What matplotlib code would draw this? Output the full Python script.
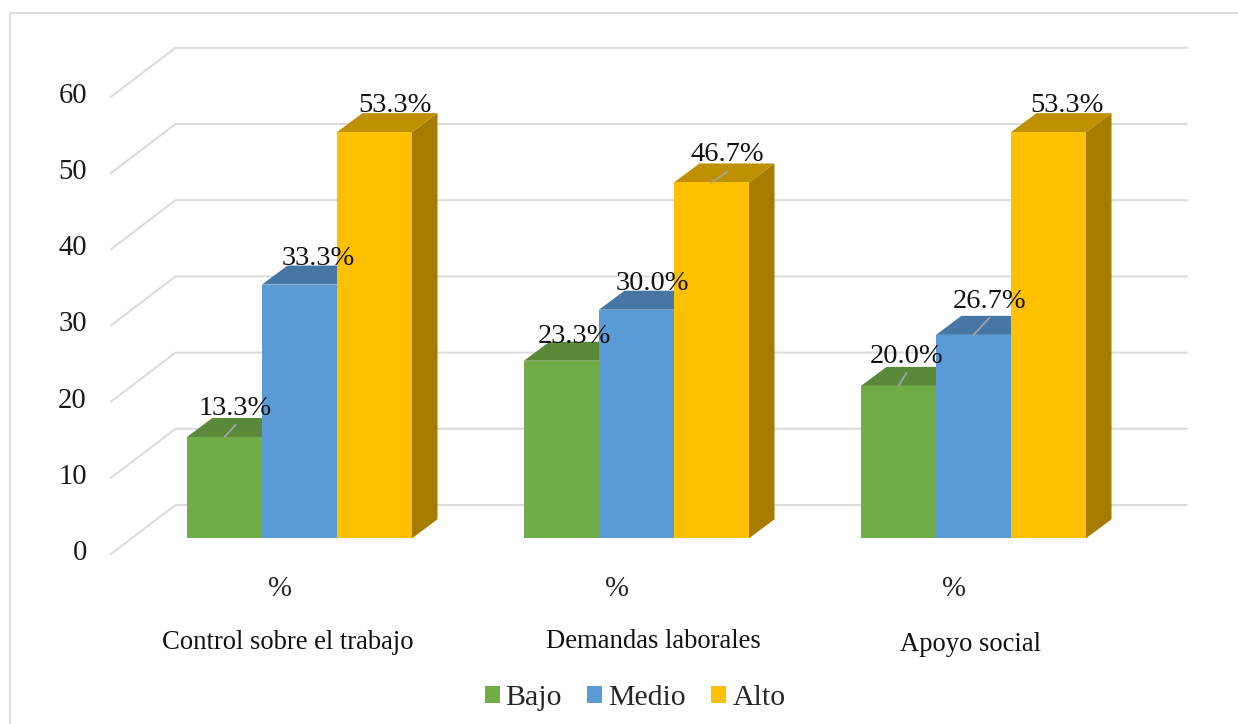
import matplotlib
matplotlib.use("Agg")
import matplotlib.pyplot as plt
from matplotlib.patches import Polygon, Rectangle
from matplotlib.lines import Line2D

plt.rcParams['font.family'] = ['Liberation Serif']

categories = ['Control sobre el trabajo', 'Demandas laborales', 'Apoyo social']
series_names = ['Bajo', 'Medio', 'Alto']
bajo = [13.3, 23.3, 20.0]
medio = [33.3, 30.0, 26.7]
alto = [53.3, 46.7, 53.3]
series_values = [bajo, medio, alto]
y_ticks = [0, 10, 20, 30, 40, 50, 60]

front = ['#70AD47', '#5B9BD5', '#FFC000']
top = ['#5A8A39', '#4676A3', '#BF9000']
side = ['#4F7A32', '#3F6A94', '#A67C00']
grid = '#DCDCDC'
# per-label placement in pixels (series by category), as moved by hand in the original
label_ox = [[11, 13, 8], [19, 16, 16], [21, 16, 18]]
label_oy = [[22, 18, 23], [20, 20, 27], [20, 21, 20]]
leaders = [[True, False, True], [False, False, True], [False, True, False]]

W, H = 1238, 724
fig = plt.figure(figsize=(W / 100, H / 100), dpi=100)
PX_PER_CAT = 337.0
PX_PER_UNIT = 7.62
Y0 = 538.3
XL = 131.0
ax_h = 60 * PX_PER_UNIT
ax = fig.add_axes([XL / W, 1 - Y0 / H, 3 * PX_PER_CAT / W, ax_h / H])
ax.set_xlim(-0.5, 2.5)
ax.set_ylim(0, 60)
ax.axis('off')

def dx(p):
    return p / PX_PER_CAT
def dy(p):
    return p / PX_PER_UNIT

# walls: back gridlines and oblique left segments
wall_left = -0.5 + dx(111 - XL)
depth_x, depth_y = dx(64.5), dy(49)
wall_base = dy(Y0 - 554)
wall_right = wall_left + depth_x + 3
for t in y_ticks:
    yy = t + wall_base
    ax.plot([wall_left, wall_left + depth_x, wall_right], [yy, yy + depth_y, yy + depth_y],
            color=grid, lw=1.5, clip_on=False, zorder=1, solid_joinstyle='miter')
    ax.text(wall_left - dx(24), yy + dy(1), str(t), ha='right', va='center', fontsize=20.6,
            color='#1a1a1a', clip_on=False)

bar_w = 75.0 / PX_PER_CAT
bdx, bdy = dx(25.5), dy(19)
for s, vals in enumerate(series_values):
    offs = (s - 1) * bar_w
    for c, v in enumerate(vals):
        l = c + offs - bar_w / 2
        r = l + bar_w
        zb = 3 + c * 10 + s
        ax.add_patch(Polygon([(r, 0), (r + bdx, bdy), (r + bdx, v + bdy), (r, v)],
                             closed=True, fc=side[s], ec='none', zorder=zb, clip_on=False))
        ax.add_patch(Polygon([(l, v), (l + bdx, v + bdy), (r + bdx, v + bdy), (r, v)],
                             closed=True, fc=top[s], ec='none', zorder=zb, clip_on=False))
        ax.bar(c + offs, v, width=bar_w, color=front[s], zorder=zb + 0.1, clip_on=False)
        if leaders[s][c]:
            ax.plot([c + offs, c + offs + dx(label_ox[s][c])], [v, v + dy(label_oy[s][c] - 10)],
                    color='#A6A6A6', lw=1.2, zorder=zb + 0.2, clip_on=False)

# data labels on top
for s, vals in enumerate(series_values):
    offs = (s - 1) * bar_w
    for c, v in enumerate(vals):
        ax.text(c + offs + dx(label_ox[s][c]), v + dy(label_oy[s][c]), f'{v:.1f}%', ha='center',
                va='baseline', fontsize=20.5, color='#111111', zorder=100, clip_on=False)

# category axis
cat_y = [642.5, 641, 644.5]
cat_off = [-11.5, 17, -3]
for c, name in enumerate(categories):
    ax.text(c - dx(19.5), dy(Y0 - 596), '%', ha='center', va='baseline', fontsize=20.7,
            color='#262626', clip_on=False)
    ax.text(c + dx(cat_off[c]), dy(Y0 - cat_y[c]), name, ha='center', va='center', fontsize=19.2,
            color='#111111', clip_on=False)

# frame: top and left only
fig.add_artist(Line2D([9.5 / W, 9.5 / W, 1], [0, 1 - 12.5 / H, 1 - 12.5 / H], color=grid, lw=1.5))

# legend
handles = [Rectangle((0, 0), 1, 1, fc=front[i], ec='none') for i in range(3)]
fig.legend(handles, series_names, loc='center', bbox_to_anchor=(635 / W, 1 - 698 / H), ncol=3,
           frameon=False, fontsize=21.5, handlelength=0.5, handleheight=0.5, handletextpad=0.2,
           columnspacing=0.85, borderpad=0, labelcolor='#262626')

fig.savefig('out.png', dpi=100, facecolor='white')
